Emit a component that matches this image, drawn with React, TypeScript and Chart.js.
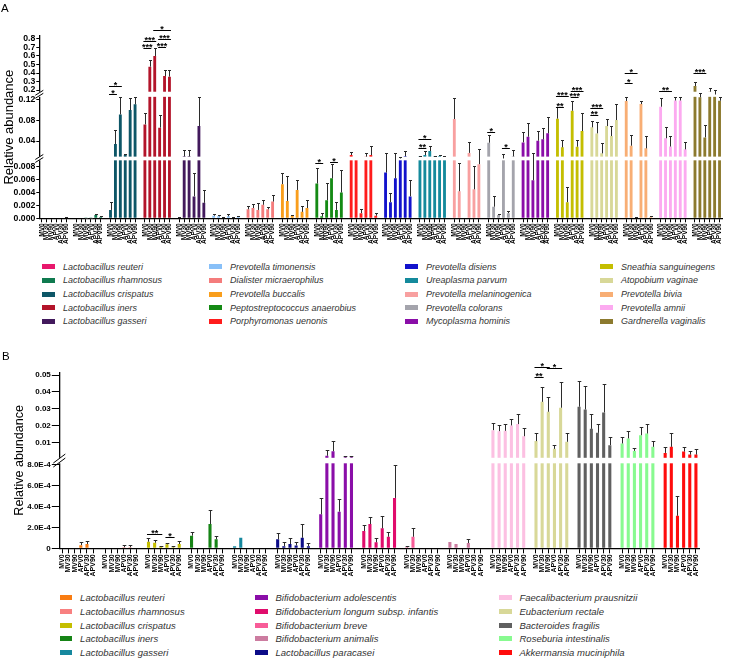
import React, { useEffect, useRef } from 'react';
import { Chart, registerables, LinearScale } from 'chart.js';

Chart.register(...registerables);
Chart.defaults.font.family = '"Liberation Sans", Arial, Helvetica, sans-serif';
Chart.defaults.color = '#000';

// ---------- data ----------
const groupLabels = ['MV0', 'MV30', 'MV90', 'APV0', 'APV30', 'APV90'];

const speciesA = [
  'Lactobacillus reuteri', 'Lactobacillus rhamnosus', 'Lactobacillus crispatus', 'Lactobacillus iners', 'Lactobacillus gasseri',
  'Prevotella timonensis', 'Dialister micraerophilus', 'Prevotella buccalis', 'Peptostreptococcus anaerobius', 'Porphyromonas uenonis',
  'Prevotella disiens', 'Ureaplasma parvum', 'Prevotella melaninogenica', 'Prevotella colorans', 'Mycoplasma hominis',
  'Sneathia sanguinegens', 'Atopobium vaginae', 'Prevotella bivia', 'Prevotella amnii', 'Gardnerella vaginalis',
];
const colorsA = [
  '#e8186c', '#0f7a4f', '#0d5667', '#b3142a', '#42195c',
  '#88c0f8', '#f47c7c', '#f99e1c', '#148a14', '#ff1c1c',
  '#1212cc', '#148a9c', '#f8a0a0', '#a4a4ac', '#8a0ea8',
  '#c4be00', '#d8d898', '#f8ae74', '#fcaaf0', '#8c7a2e',
];
const meanA = [
  [0, 0, 0, 0, 0, 0.00005],
  [0, 0, 0.00003, 0.00004, 0.0005, 0.0002],
  [0.0013, 0.0342, 0.091, 0.013, 0.0996, 0.1105],
  [0.072, 0.4745, 0.6, 0.0657, 0.365, 0.357],
  [0, 0.0105, 0.0105, 0.0034, 0.0689, 0.0024],
  [0.0004, 0.0003, 0.0001, 0.0003, 0.0001, 0.0002],
  [0.0014, 0.0016, 0.0013, 0.0021, 0.0014, 0.0026],
  [0.0053, 0.0027, 0.0004, 0.0044, 0.001, 0.0016],
  [0.0054, 0.0003, 0.0028, 0.0062, 0.0013, 0.004],
  [0.0131, 0.0095, 0.0008, 0.01, 0.013, 0.0004],
  [0.0071, 0.0025, 0.0062, 0.0095, 0.0105, 0.0034],
  [0.0105, 0.013, 0.0208, 0.0105, 0.011, 0.0105],
  [0.0823, 0.0042, 0, 0.0172, 0.0045, 0.0084],
  [0.0368, 0.0018, 0.0005, 0.0095, 0.0008, 0.0105],
  [0.0374, 0.0483, 0.0059, 0.0406, 0.0432, 0.0548],
  [0.083, 0.0278, 0.0025, 0.0983, 0.0291, 0.0592],
  [0.0663, 0.0547, 0.0163, 0.0688, 0.0496, 0.0804],
  [0.117, 0.031, 0.0001, 0.111, 0.0259, 0.0002],
  [0.106, 0.0453, 0.0294, 0.118, 0.118, 0.024],
  [0.247, 0.124, 0.047, 0.18, 0.15, 0.1175],
];
const errA = [
  [0, 0, 0, 0, 0, 0.0001],
  [0, 0, 0.00005, 0.00006, 0.0002, 0.0001],
  [0.0013, 0.027, 0.034, 0.002, 0.024, 0.016],
  [0.0225, 0.078, 0.098, 0.024, 0.07, 0.078],
  [0.0002, 0.013, 0.013, 0.0036, 0.056, 0.002],
  [0.0002, 0.0002, 0.0001, 0.0003, 0.0001, 0.0001],
  [0.0005, 0.0006, 0.001, 0.0007, 0.0004, 0.001],
  [0.0017, 0.0038, 0.0001, 0.0016, 0.0009, 0.0012],
  [0.0024, 0.0005, 0.0027, 0.0022, 0.0012, 0.0035],
  [0.0064, 0, 0.0006, 0.0063, 0.0174, 0.0004],
  [0.0104, 0.0015, 0.0114, 0.0005, 0.0105, 0.0026],
  [0.0015, 0.0078, 0.0096, 0.0015, 0.003, 0.0015],
  [0.04, 0.0044, 0, 0.0206, 0.0036, 0.0156],
  [0.0148, 0.0017, 0.0001, 0.0055, 0.0004, 0.012],
  [0.0193, 0.0257, 0.0104, 0.0193, 0.0212, 0.0321],
  [0.0217, 0.0142, 0.0024, 0.0193, 0.0129, 0.034],
  [0.0122, 0.0213, 0.0192, 0.0129, 0.0192, 0.0301],
  [0.008, 0.0206, 0.0001, 0.0067, 0.0237, 0.0002],
  [0.017, 0.0223, 0.0202, 0.006, 0.006, 0.0147],
  [0.05, 0.04, 0.0238, 0.04, 0.055, 0.008],
];
const yTicksA = [0, 0.002, 0.004, 0.006, 0.008, 0.04, 0.08, 0.12, 0.2, 0.3, 0.4, 0.5, 0.6, 0.7, 0.8];
const yTickLabelsA = ['0.000', '0.002', '0.004', '0.006', '0.008', '0.04', '0.08', '0.12', '0.2', '0.3', '0.4', '0.5', '0.6', '0.7', '0.8'];
// [group, fromBar, toBar, level, text]
const sigA: [number, number, number, number, string][] = [
  [2, 0, 1, 0.152, '*'], [2, 0, 2, 0.247, '*'],
  [3, 0, 1, 0.698, '***'], [3, 0, 2, 0.776, '***'], [3, 2, 5, 0.906, '*'], [3, 3, 5, 0.796, '***'], [3, 3, 4, 0.709, '***'],
  [8, 0, 1, 0.00853, '*'], [8, 3, 4, 0.00868, '*'],
  [11, 0, 1, 0.0271, '**'], [11, 0, 2, 0.0433, '*'],
  [13, 0, 1, 0.0567, '*'], [13, 3, 4, 0.0271, '*'],
  [15, 0, 1, 0.105, '**'], [15, 0, 2, 0.134, '***'], [15, 3, 4, 0.124, '***'], [15, 3, 5, 0.192, '***'],
  [16, 0, 1, 0.09, '**'], [16, 0, 2, 0.1029, '***'],
  [17, 0, 1, 0.286, '*'], [17, 0, 2, 0.396, '*'],
  [18, 0, 2, 0.192, '**'],
  [19, 0, 2, 0.4035, '***'],
];

const speciesB = [
  'Lactobacillus reuteri', 'Lactobacillus rhamnosus', 'Lactobacillus crispatus', 'Lactobacillus iners', 'Lactobacillus gasseri',
  'Lactobacillus paracasei', 'Bifidobacterium adolescentis', 'Bifidobacterium longum subsp. infantis', 'Bifidobacterium breve',
  'Bifidobacterium animalis', 'Faecalibacterium prausnitzii', 'Eubacterium rectale', 'Bacteroides fragilis',
  'Roseburia intestinalis', 'Akkermansia muciniphila',
];
const colorsB = [
  '#f97c12', '#f88080', '#c4be00', '#168416', '#16889e',
  '#0c0c88', '#8a0ea8', '#e00c6c', '#f85c98', '#cc7ca0',
  '#fcc0e2', '#d8d898', '#606060', '#88fa90', '#ff0c0c',
];
const legendOrderB = [0, 1, 2, 3, 4, 6, 7, 8, 9, 5, 10, 11, 12, 13, 14];
const meanB = [
  [0, 0, 0, 0.00003, 0.00004, 0],
  [0, 0, 0, 0.00001, 0.00001, 0],
  [0.000063, 0.000053, 0.00002, 0.000038, 0.00001, 0.000041],
  [0.00012, 0, 0, 0.000231, 0.000086, 0],
  [0.00002, 0.0001, 0, 0, 0, 0],
  [0.000086, 0.00002, 0.00004, 0.000027, 0.0001, 0.00002],
  [0.000324, 0.0021, 0.0048, 0.000349, 0.0012, 0.0012],
  [0.000165, 0.000231, 0.000057, 0.00019, 0.00011, 0.00048],
  [0.00001, 0.00011, 0, 0, 0, 0],
  [0.00006, 0.00004, 0, 0.00005, 0, 0],
  [0.0173, 0.0167, 0.0169, 0.0201, 0.0209, 0.0137],
  [0.0108, 0.0341, 0.0282, 0.0062, 0.0306, 0.0104],
  [0.0312, 0.0296, 0.0181, 0.0157, 0.0278, 0.0084],
  [0.0094, 0.0124, 0.005, 0.0143, 0.0153, 0.0074],
  [0.0038, 0.0074, 0.00031, 0.0046, 0.0028, 0.0028],
];
const errB = [
  [0, 0, 0, 0.00003, 0.00003, 0],
  [0, 0, 0, 0.00002, 0.00002, 0],
  [0.000032, 0.000027, 0.000005, 0.000015, 0.00001, 0.000032],
  [0.000032, 0, 0, 0.000134, 0.000032, 0],
  [0, 0, 0, 0, 0, 0],
  [0.000064, 0.00004, 0.00006, 0.000033, 0.00013, 0.00003],
  [0.000156, 0.0033, 0.006, 0.00012, 0.0007, 0.0007],
  [0.000055, 0.00007, 0.000038, 0.00012, 0.00005, 0.00031],
  [0.00001, 0.00008, 0, 0, 0, 0],
  [0, 0, 0, 0.00004, 0, 0],
  [0.0044, 0.0039, 0.0041, 0.0036, 0.0059, 0.005],
  [0.0049, 0.0089, 0.0089, 0.0022, 0.0154, 0.005],
  [0.0153, 0.0138, 0.0087, 0.0052, 0.0169, 0.0046],
  [0.0036, 0.0045, 0.002, 0.0046, 0.0056, 0.0036],
  [0.0033, 0.0083, 0.00019, 0.0028, 0.002, 0.0032],
];
const yTicksB = [0, 0.0002, 0.0004, 0.0006, 0.0008, 0.01, 0.02, 0.03, 0.04, 0.05];
const yTickLabelsB = ['0', '2.0E-4', '4.0E-4', '6.0E-4', '8.0E-4', '0.01', '0.02', '0.03', '0.04', '0.05'];
const sigB: [number, number, number, number, string][] = [
  [2, 0, 2, 0.000139, '**'], [2, 3, 4, 0.000105, '*'],
  [11, 0, 1, 0.049, '**'], [11, 0, 2, 0.0545, '*'], [11, 2, 4, 0.054, '*'],
];

// ---------- axis-break structure (value -> fraction of axis height) ----------
const breakpointsA = [[0, 0], [0.009, 0.318], [0.01, 0.3383], [0.125, 0.6663], [0.18, 0.6943], [0.835, 1]];
const breaksA = [[0.009, 0.01], [0.125, 0.18]];
const breakpointsB = [[0, 0], [0.00081, 0.4835], [0.0009, 0.5148], [0.0515, 1]];
const breaksB = [[0.00081, 0.0009]];

function toFrac(bp: number[][], v: number) {
  for (let i = 1; i < bp.length; i++) {
    if (v <= bp[i][0] || i === bp.length - 1) {
      const [v0, f0] = bp[i - 1];
      const [v1, f1] = bp[i];
      return f0 + ((v - v0) * (f1 - f0)) / (v1 - v0);
    }
  }
  return 0;
}
function fromFrac(bp: number[][], f: number) {
  for (let i = 1; i < bp.length; i++) {
    if (f <= bp[i][1] || i === bp.length - 1) {
      const [v0, f0] = bp[i - 1];
      const [v1, f1] = bp[i];
      return v0 + ((f - f0) * (v1 - v0)) / (f1 - f0);
    }
  }
  return 0;
}

function makeBrokenScale(scaleId: string, bp: number[][], tickVals: number[]) {
  class BrokenScale extends (LinearScale as any) {
    static id = scaleId;
    static defaults = (LinearScale as any).defaults;
    buildTicks() {
      return tickVals.map((v) => ({ value: v }));
    }
    getPixelForValue(v: any) {
      if (v === null || v === undefined || isNaN(v)) return NaN;
      return (this as any).getPixelForDecimal(toFrac(bp, v));
    }
    getValueForPixel(p: number) {
      return fromFrac(bp, (this as any).getDecimalForPixel(p));
    }
  }
  return BrokenScale;
}
Chart.register(makeBrokenScale('brokenA', breakpointsA, yTicksA) as any, makeBrokenScale('brokenB', breakpointsB, yTicksB) as any);

// ---------- helpers ----------
function buildLabels(nGroups: number) {
  return Array.from({ length: nGroups * 7 - 1 }, (_, i) => (i % 7 === 6 ? '' : groupLabels[i % 7]));
}
function buildDatasets(names: string[], colors: string[], means: number[][], errs: number[][], barPct: number) {
  const n = means.length * 7 - 1;
  return means.map((m, g) => {
    const data: (number | null)[] = new Array(n).fill(null);
    const errors: (number | null)[] = new Array(n).fill(null);
    m.forEach((v, k) => {
      data[g * 7 + k] = v;
      errors[g * 7 + k] = errs[g][k];
    });
    return {
      label: names[g],
      data,
      errors,
      backgroundColor: colors[g],
      borderWidth: 0,
      grouped: false,
      barPercentage: barPct,
      categoryPercentage: 1,
    };
  });
}

function overlayPlugin(o: { breaks: number[][]; sig: [number, number, number, number, string][]; markW: number; markH: number; markS: number; cap: number; starSize: number }) {
  return {
    id: 'overlay',
    afterDatasetsDraw(chart: any) {
      const { ctx, chartArea: area } = chart;
      const ys = chart.scales.y;
      ctx.save();
      // white gaps of the broken axis
      ctx.fillStyle = '#ffffff';
      o.breaks.forEach(([v0, v1]) => {
        const p0 = ys.getPixelForValue(v0);
        const p1 = ys.getPixelForValue(v1);
        ctx.fillRect(area.left - 1.5, p1, area.right - area.left + 1.5, p0 - p1);
      });
      // error bars
      ctx.strokeStyle = '#2b2b2b';
      ctx.lineWidth = 1;
      chart.data.datasets.forEach((ds: any, di: number) => {
        const meta = chart.getDatasetMeta(di);
        ds.data.forEach((v: number | null, i: number) => {
          const e = ds.errors[i];
          if (v === null || !e) return;
          const x = Math.round(meta.data[i].x) + 0.5;
          const yb = ys.getPixelForValue(v);
          const yt = Math.round(ys.getPixelForValue(v + e)) + 0.5;
          ctx.beginPath();
          ctx.moveTo(x, yb);
          ctx.lineTo(x, yt);
          ctx.moveTo(x - o.cap, yt);
          ctx.lineTo(x + o.cap, yt);
          ctx.stroke();
        });
      });
      // break marks on the y axis
      ctx.strokeStyle = '#000';
      ctx.lineWidth = 1;
      o.breaks.forEach(([v0, v1]) => {
        const yc = (ys.getPixelForValue(v0) + ys.getPixelForValue(v1)) / 2;
        const x = area.left;
        [-o.markS, o.markS].forEach((d) => {
          ctx.beginPath();
          ctx.moveTo(x - o.markW, yc + o.markH + d);
          ctx.lineTo(x + o.markW, yc - o.markH + d);
          ctx.stroke();
        });
      });
      // significance annotations
      ctx.fillStyle = '#000';
      ctx.font = `bold ${o.starSize}px "Liberation Sans", Arial, sans-serif`;
      ctx.textAlign = 'center';
      ctx.textBaseline = 'alphabetic';
      o.sig.forEach(([g, a, b, level, text]) => {
        const meta = chart.getDatasetMeta(g);
        const x1 = meta.data[g * 7 + a].x - 1.5;
        const x2 = meta.data[g * 7 + b].x + 1.5;
        const y = Math.round(ys.getPixelForValue(level)) + 0.5;
        ctx.beginPath();
        ctx.moveTo(x1, y);
        ctx.lineTo(x2, y);
        ctx.stroke();
        ctx.fillText(text, (x1 + x2) / 2, y + 1.5);
      });
      ctx.restore();
    },
  };
}

function makeConfig(p: any) {
  const labels = buildLabels(p.means.length);
  return {
    type: 'bar',
    data: { labels, datasets: buildDatasets(p.names, p.colors, p.means, p.errs, p.barPct) },
    options: {
      responsive: false,
      animation: false,
      events: [],
      layout: { padding: p.padding },
      plugins: { legend: { display: false }, tooltip: { enabled: false } },
      scales: {
        x: {
          type: 'category',
          offset: true,
          grid: {
            display: true,
            offset: false,
            drawOnChartArea: false,
            drawTicks: true,
            tickLength: p.xTickLen,
            tickWidth: 1,
            tickColor: (c: any) => (labels[c.index] ? '#000' : 'rgba(0,0,0,0)'),
          },
          border: { display: true, color: '#000', width: 1.2 },
          ticks: {
            autoSkip: false,
            maxRotation: 90,
            minRotation: 90,
            padding: 1,
            color: '#000',
            font: { size: p.xFont, weight: 'bold' },
          },
          afterFit: (s: any) => {
            s.height = p.xHeight;
          },
        },
        y: {
          type: p.yType,
          min: 0,
          max: p.yMax,
          grid: { display: true, drawOnChartArea: false, drawTicks: true, tickLength: p.yTickLen, tickWidth: 1, tickColor: '#000' },
          border: { display: true, color: '#000', width: 1.3 },
          ticks: {
            autoSkip: false,
            padding: 1,
            color: '#000',
            font: { size: p.yFont, weight: 'bold' },
            callback: (_v: any, i: number) => p.yLabels[i],
          },
          title: {
            display: true,
            text: 'Relative abundance',
            color: '#000',
            font: { size: p.titleSize },
            padding: { top: p.titlePad, bottom: 0 },
          },
          afterFit: (s: any) => {
            s.width = p.yWidth;
          },
        },
      },
    },
    plugins: [overlayPlugin(p.overlay)],
  };
}

const legendFont = '"Liberation Sans", Arial, Helvetica, sans-serif';

function Legend(props: { names: string[]; colors: string[]; order: number[]; cols: number[]; rows: number[]; sw: number; font: number; textGap: number }) {
  const { names, colors, order, cols, rows, sw, font, textGap } = props;
  return (
    <>
      {order.map((idx, k) => {
        const c = Math.floor(k / rows.length);
        const r = k % rows.length;
        return (
          <div
            key={idx}
            style={{
              position: 'absolute',
              left: cols[c],
              top: rows[r] - 7,
              height: 14,
              display: 'flex',
              alignItems: 'center',
              whiteSpace: 'nowrap',
            }}
          >
            <span style={{ display: 'inline-block', width: sw, height: 5, background: colors[idx] }} />
            <span style={{ marginLeft: textGap, fontStyle: 'italic', fontSize: font, color: '#333', fontFamily: legendFont }}>{names[idx]}</span>
          </div>
        );
      })}
    </>
  );
}

export default function App() {
  const refA = useRef<HTMLCanvasElement>(null);
  const refB = useRef<HTMLCanvasElement>(null);

  useEffect(() => {
    const chartA = new Chart(
      refA.current as any,
      makeConfig({
        names: speciesA, colors: colorsA, means: meanA, errs: errA, barPct: 0.58,
        padding: { top: 36, right: 8, left: 0, bottom: 0 },
        xTickLen: 4, xFont: 6.5, xHeight: 31.7,
        yType: 'brokenA', yMax: 0.835, yTickLen: 3, yFont: 8.7, yLabels: yTickLabelsA, yWidth: 39.3,
        titleSize: 13, titlePad: 1.8,
        overlay: { breaks: breaksA, sig: sigA, markW: 4, markH: 2.5, markS: 1.5, cap: 1.5, starSize: 9 },
      }) as any
    );
    const chartB = new Chart(
      refB.current as any,
      makeConfig({
        names: speciesB, colors: colorsB, means: meanB, errs: errB, barPct: 0.5,
        padding: { top: 32.5, right: 31, left: 0, bottom: 0 },
        xTickLen: 5, xFont: 7, xHeight: 41.7,
        yType: 'brokenB', yMax: 0.0515, yTickLen: 7.5, yFont: 8, yLabels: yTickLabelsB, yWidth: 59.3,
        titleSize: 12.5, titlePad: 11.8,
        overlay: { breaks: breaksB, sig: sigB, markW: 6, markH: 4.5, markS: 2, cap: 1.8, starSize: 9 },
      }) as any
    );
    return () => {
      chartA.destroy();
      chartB.destroy();
    };
  }, []);

  return (
    <div style={{ position: 'absolute', left: 0, top: 0, width: 730, height: 658, background: '#fff', overflow: 'hidden', fontFamily: legendFont }}>
      <canvas ref={refA} width={730} height={250} style={{ position: 'absolute', left: 0, top: 0, display: 'block' }} />
      <canvas ref={refB} width={730} height={250} style={{ position: 'absolute', left: 0, top: 340, display: 'block' }} />
      <div style={{ position: 'absolute', left: 1, top: 2, fontSize: 11.5, lineHeight: '12px', color: '#000' }}>A</div>
      <div style={{ position: 'absolute', left: 2, top: 350, fontSize: 11.5, lineHeight: '12px', color: '#000' }}>B</div>
      <Legend names={speciesA} colors={colorsA} order={speciesA.map((_, i) => i)} cols={[42, 209, 405, 600]} rows={[266.7, 280.4, 294, 307.5, 321]} sw={13} font={9} textGap={8} />
      <Legend names={speciesB} colors={colorsB} order={legendOrderB} cols={[59.6, 255, 499]} rows={[597.7, 611.4, 625.1, 638.8, 652.5]} sw={12.5} font={9.5} textGap={8} />
    </div>
  );
}
